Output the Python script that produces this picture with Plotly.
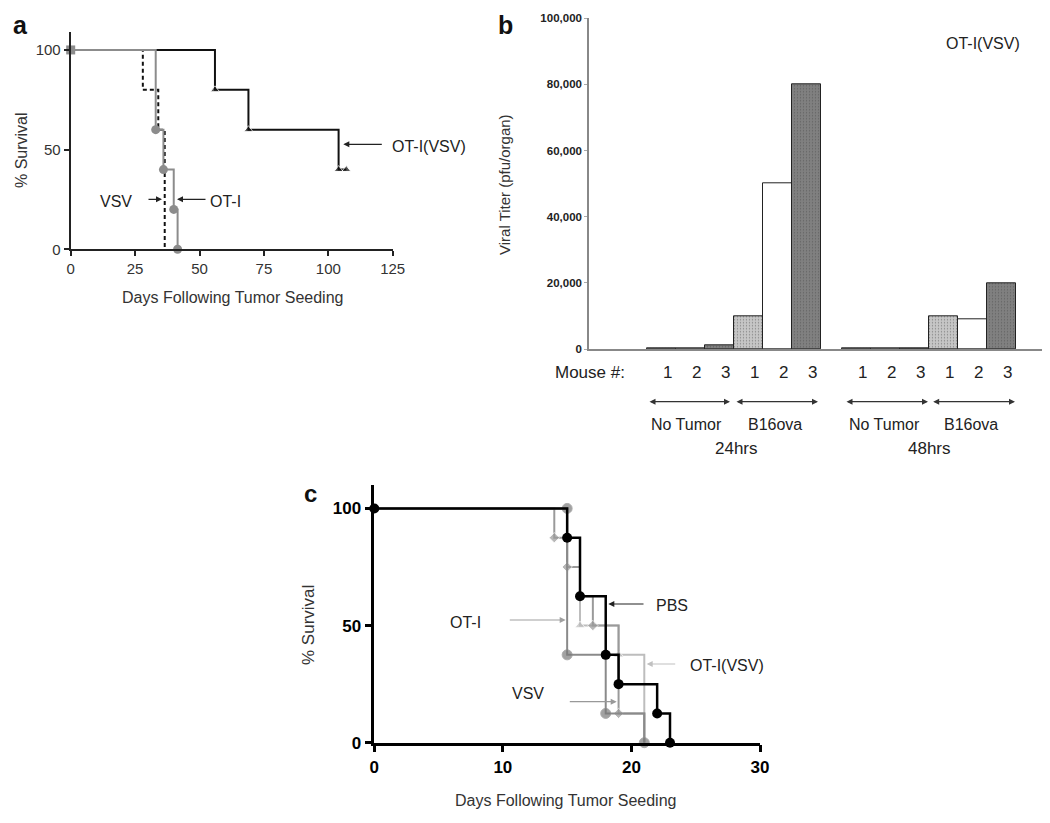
import plotly.graph_objects as go

W, H = 1050, 823
OFF = 8  # page body margin of the browser
def X(px): return (px - OFF) / W
def Y(py): return 1 - (py - OFF) / H

# ---------------- data ----------------
# Panel a: survival (% ) vs days following tumor seeding
a_otivsv_days = [0, 56, 69, 104, 107]
a_otivsv_surv = [100, 80, 60, 40, 40]
a_oti_days = [0, 33, 36, 40, 41.5]
a_oti_surv = [100, 60, 40, 20, 0]
a_vsv_days = [0, 28, 34, 36.5]
a_vsv_surv = [100, 80, 60, 0]
a_xticks = [0, 25, 50, 75, 100, 125]
a_yticks = [0, 50, 100]

# Panel b: viral titer (pfu/organ)
b_mouse = ["1", "2", "3", "1", "2", "3"]
b_groups = ["24hrs", "48hrs"]
b_subgroups = ["No Tumor", "B16ova"]
b_24hrs = [150, 250, 1200, 10000, 50000, 80000]
b_48hrs = [250, 350, 350, 10000, 9000, 20000]
b_yticks = [0, 20000, 40000, 60000, 80000, 100000]

# Panel c: survival (%) vs days
c_pbs_days = [0, 15, 16, 18, 19, 22, 23]
c_pbs_surv = [100, 87.5, 62.5, 37.5, 25, 12.5, 0]
c_oti_days = [0, 14, 15, 16, 17, 19, 21]
c_oti_surv = [100, 87.5, 75, 62.5, 50, 12.5, 0]
c_otivsv_days = [0, 15, 16, 19, 21]
c_otivsv_surv = [100, 75, 50, 37.5, 0]
c_vsv_days = [0, 15, 15, 18, 21]
c_vsv_surv = [100, 100, 37.5, 12.5, 0]
c_xticks = [0, 10, 20, 30]
c_yticks = [0, 50, 100]

FONT = "Liberation Sans, Arial, sans-serif"
fig = go.Figure()

# ---------------- panel a ----------------
fig.add_trace(go.Scatter(x=a_otivsv_days, y=a_otivsv_surv, mode="lines+markers",
                         line=dict(shape="hv", color="#111", width=2),
                         marker=dict(symbol="triangle-up", size=[0, 8, 8, 8, 8], color="#111"),
                         xaxis="x", yaxis="y", cliponaxis=False, showlegend=False))
fig.add_trace(go.Scatter(x=a_vsv_days, y=a_vsv_surv, mode="lines",
                         line=dict(shape="hv", color="#111", width=2, dash="4px,3px"),
                         xaxis="x", yaxis="y", cliponaxis=False, showlegend=False))
fig.add_trace(go.Scatter(x=a_oti_days, y=a_oti_surv, mode="lines+markers",
                         line=dict(shape="hv", color="#8c8c8c", width=2),
                         marker=dict(symbol=["square", "circle", "circle", "circle", "circle"],
                                     size=9, color="#8c8c8c"),
                         xaxis="x", yaxis="y", cliponaxis=False, showlegend=False))

# ---------------- panel b ----------------
gap = 0.71
b_x, b_vals, b_cols, b_pat = [], [], [], []
fills = {"1": "#c6c6c6", "2": "#ffffff", "3": "#808080"}
for g, vals in enumerate([b_24hrs, b_48hrs]):
    for i, v in enumerate(vals):
        b_x.append(g * (len(vals) + gap) + i)
        b_vals.append(v)
        b_cols.append(fills[b_mouse[i]])
        b_pat.append("" if b_mouse[i] == "2" else ".")
fig.add_trace(go.Bar(x=b_x, y=b_vals, width=1,
                     marker=dict(color=b_cols, line=dict(color="#222", width=1),
                                 pattern=dict(shape=b_pat, fgcolor="#6a6a6a", size=3, solidity=0.15)),
                     xaxis="x2", yaxis="y2", showlegend=False))

# ---------------- panel c ----------------
fig.add_trace(go.Scatter(x=c_otivsv_days, y=c_otivsv_surv, mode="lines+markers",
                         line=dict(shape="hv", color="#bdbdbd", width=2),
                         marker=dict(symbol="triangle-up", size=[0, 0, 9, 9, 0], color="#bdbdbd"),
                         xaxis="x3", yaxis="y3", cliponaxis=False, showlegend=False))
fig.add_trace(go.Scatter(x=c_oti_days, y=c_oti_surv, mode="lines+markers",
                         line=dict(shape="hv", color="#9a9a9a", width=2),
                         marker=dict(symbol="diamond", size=[0, 8, 8, 0, 8, 8, 0], color="#9a9a9a"),
                         xaxis="x3", yaxis="y3", cliponaxis=False, showlegend=False))
fig.add_trace(go.Scatter(x=c_vsv_days, y=c_vsv_surv, mode="lines+markers",
                         line=dict(shape="hv", color="#8a8a8a", width=2),
                         marker=dict(symbol="circle", size=[0, 10, 10, 10, 10], color="#7a7a7a"),
                         xaxis="x3", yaxis="y3", cliponaxis=False, showlegend=False))
fig.add_trace(go.Scatter(x=c_pbs_days, y=c_pbs_surv, mode="lines+markers",
                         line=dict(shape="hv", color="#000", width=2.5),
                         marker=dict(symbol="circle", size=10, color="#000"),
                         xaxis="x3", yaxis="y3", cliponaxis=False, showlegend=False))

# ---------------- axes ----------------
ax_a = dict(showgrid=False, zeroline=False, showline=True, linecolor="#222", linewidth=2,
            ticks="outside", ticklen=5, tickwidth=2, tickcolor="#222", automargin=False,
            tickfont=dict(family=FONT, size=15, color="#333"))
ax_c = dict(showgrid=False, zeroline=False, showline=True, linecolor="#000", linewidth=2.5,
            ticks="outside", ticklen=7, tickwidth=2.5, tickcolor="#000", automargin=False,
            tickfont=dict(family=FONT, size=17, color="#000", weight="bold"))

fig.update_layout(
    width=W, height=H, margin=dict(l=0, r=0, t=0, b=0, autoexpand=False),
    paper_bgcolor="white", plot_bgcolor="white", bargap=0,
    xaxis=dict(domain=[X(70.7), X(392.7)], range=[0, 125], tickvals=a_xticks, anchor="y", **ax_a),
    yaxis=dict(domain=[Y(249.3), Y(32)], range=[0, 109], tickvals=a_yticks, anchor="x", **ax_a),
    xaxis2=dict(domain=[X(589), X(1045)], range=[-2.49, 13.21], showgrid=False, zeroline=False,
                showline=True, linecolor="#888", linewidth=1.5, showticklabels=False, ticks="",
                anchor="y2", automargin=False),
    yaxis2=dict(domain=[Y(349), Y(18.3)], range=[0, 100000], tickvals=b_yticks, tickformat=",",
                showgrid=False, zeroline=False, showline=True, linecolor="#888", linewidth=1.5,
                ticks="outside", ticklen=3, tickcolor="#aaa", automargin=False,
                tickfont=dict(family=FONT, size=11.5, color="#222", weight="bold"), anchor="x2"),
    xaxis3=dict(domain=[X(374.3), X(760)], range=[0, 30], tickvals=c_xticks, anchor="y3", **ax_c),
    yaxis3=dict(domain=[Y(742.7), Y(485)], range=[0, 110], tickvals=c_yticks, anchor="x3", **ax_c),
)

ann = []
def text(px, py, s, size=16, color="#222", bold=False, angle=0, xanchor="center", yanchor="middle"):
    ann.append(dict(x=X(px), y=Y(py), xref="paper", yref="paper", text=s, showarrow=False,
                    textangle=angle, xanchor=xanchor, yanchor=yanchor,
                    font=dict(family=FONT, size=size, color=color, weight="bold" if bold else "normal")))

def arrow(hx, hy, tx, ty, color="#222", both=False):
    ann.append(dict(x=X(hx), y=Y(hy), xref="paper", yref="paper", text="", showarrow=True,
                    ax=tx - hx, ay=ty - hy, arrowcolor=color, arrowwidth=1.2, arrowsize=1,
                    arrowhead=2, arrowside="end+start" if both else "end", startarrowhead=2,
                    startarrowsize=1))

# panel labels
text(20, 8.5, "a", size=25, color="#111", bold=True, yanchor="top")
text(505, 8.5, "b", size=25, color="#111", bold=True, yanchor="top")
text(310, 493, "c", size=24, color="#111", bold=True)

# panel a titles / labels
text(22, 150, "% Survival", size=16, color="#333", angle=-90)
text(232, 297, "Days Following Tumor Seeding", size=16, color="#333")
text(429, 146, "OT-I(VSV)", size=16, color="#222")
arrow(343.3, 144.3, 383.3, 144.3)
text(116, 201, "VSV", size=16, color="#222")
arrow(162, 199.3, 147, 199.3)
text(225, 201, "OT-I", size=16, color="#222")
arrow(177, 199.3, 207, 199.3)

# panel b titles / labels
text(505, 185, "Viral Titer (pfu/organ)", size=15, color="#333", angle=-90)
text(983, 43, "OT-I(VSV)", size=16, color="#222")
text(590, 372, "Mouse #:", size=17, color="#222")
for xv, lab in zip(b_x, b_mouse * len(b_groups)):
    ann.append(dict(x=xv + 0.2, y=Y(372), xref="x2", yref="paper", text=lab, showarrow=False,
                    yanchor="middle", font=dict(family=FONT, size=17, color="#222")))
sub_spans = [(648, 730), (735, 818), (845, 928), (931.7, 1015)]
for (x0, x1), sg in zip(sub_spans, b_subgroups * 2):
    arrow(x1, 401.7, x0, 401.7, color="#333", both=True)
    text((x0 + x1) / 2 - 2, 425, sg, size=16, color="#222")
for cx, gname in zip([736, 930], b_groups):
    text(cx, 448, gname, size=17, color="#222")

# panel c titles / labels
text(308, 625, "% Survival", size=17, color="#333", angle=-90)
text(565, 800, "Days Following Tumor Seeding", size=16, color="#333")
text(671.7, 605, "PBS", size=16, color="#222")
arrow(608.3, 604, 645, 604, color="#222")
text(465, 622, "OT-I", size=16, color="#222")
arrow(565.7, 620, 508.3, 620, color="#a0a0a0")
text(726.7, 665, "OT-I(VSV)", size=16, color="#222")
arrow(646.7, 664, 676.7, 664, color="#c0c0c0")
text(528, 693, "VSV", size=16, color="#222")
arrow(616.7, 701.7, 568.3, 701.7, color="#999")

fig.update_layout(annotations=ann)
fig.write_html("out.html")
